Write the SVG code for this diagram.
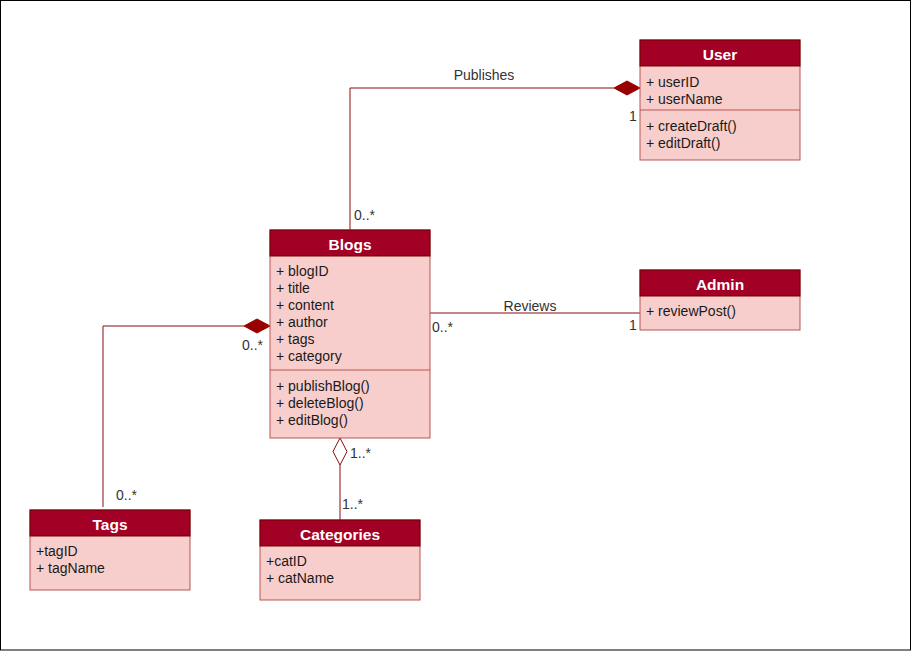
<svg xmlns="http://www.w3.org/2000/svg" width="912" height="651" viewBox="0 0 912 651">
<style>
.hd{fill:#a20025;stroke:#6f0000;stroke-width:1}
.bd{fill:#f8cecc;stroke:#b85450;stroke-width:1}
.dv{stroke:#b85450;stroke-width:1}
.ht{font-family:"Liberation Sans",Arial,sans-serif;font-size:15.5px;font-weight:bold;fill:#ffffff;text-anchor:middle}
.t{font-family:"Liberation Sans",Arial,sans-serif;font-size:14px;fill:#1a1a1a}
.ln{fill:none;stroke:#8b0d0d;stroke-width:1}
.lb{font-family:"Liberation Sans",Arial,sans-serif;font-size:14px;fill:#333333}
</style>
<rect x="0.5" y="0.5" width="910" height="649.5" fill="#ffffff" stroke="#000000"/>
<g id="connectors">
<path class="ln" d="M350,230 V88 H614"/>
<path d="M614,88 L627,81 L640,88 L627,95 Z" fill="#990000" stroke="#990000"/>
<path class="ln" d="M430,313 H640"/>
<path class="ln" d="M103,507 V326 H244"/>
<path d="M244,326 L257,319 L270,326 L257,333 Z" fill="#990000" stroke="#990000"/>
<path class="ln" d="M340,465 V520"/>
<path d="M340,438 L347,451.5 L340,465 L333,451.5 Z" fill="#ffffff" stroke="#8b0d0d"/>
<text class="lb" x="484" y="80" text-anchor="middle">Publishes</text>
<text class="lb" x="629" y="121">1</text>
<text class="lb" x="354" y="220">0..*</text>
<text class="lb" x="530" y="311" text-anchor="middle">Reviews</text>
<text class="lb" x="432" y="332">0..*</text>
<text class="lb" x="629" y="330">1</text>
<text class="lb" x="242" y="350">0..*</text>
<text class="lb" x="116" y="500">0..*</text>
<text class="lb" x="350" y="458">1..*</text>
<text class="lb" x="342" y="509">1..*</text>
</g>
<g id="User">
<rect class="bd" x="640" y="40" width="160" height="120"/>
<rect class="hd" x="640" y="40" width="160" height="26"/>
<text class="ht" x="720" y="60">User</text>
<text class="t" x="646" y="87">+ userID</text>
<text class="t" x="646" y="104">+ userName</text>
<line class="dv" x1="640" y1="110" x2="800" y2="110"/>
<text class="t" x="646" y="131">+ createDraft()</text>
<text class="t" x="646" y="148">+ editDraft()</text>
</g>
<g id="Blogs">
<rect class="bd" x="270" y="230" width="160" height="208"/>
<rect class="hd" x="270" y="230" width="160" height="26"/>
<text class="ht" x="350" y="250">Blogs</text>
<text class="t" x="276" y="276">+ blogID</text>
<text class="t" x="276" y="293">+ title</text>
<text class="t" x="276" y="310">+ content</text>
<text class="t" x="276" y="327">+ author</text>
<text class="t" x="276" y="344">+ tags</text>
<text class="t" x="276" y="361">+ category</text>
<line class="dv" x1="270" y1="370" x2="430" y2="370"/>
<text class="t" x="276" y="391">+ publishBlog()</text>
<text class="t" x="276" y="408">+ deleteBlog()</text>
<text class="t" x="276" y="425">+ editBlog()</text>
</g>
<g id="Admin">
<rect class="bd" x="640" y="270" width="160" height="60"/>
<rect class="hd" x="640" y="270" width="160" height="26"/>
<text class="ht" x="720" y="290">Admin</text>
<text class="t" x="646" y="316">+ reviewPost()</text>
</g>
<g id="Tags">
<rect class="bd" x="30" y="510" width="160" height="80"/>
<rect class="hd" x="30" y="510" width="160" height="26"/>
<text class="ht" x="110" y="530">Tags</text>
<text class="t" x="36" y="556">+tagID</text>
<text class="t" x="36" y="573">+ tagName</text>
</g>
<g id="Categories">
<rect class="bd" x="260" y="520" width="160" height="80"/>
<rect class="hd" x="260" y="520" width="160" height="26"/>
<text class="ht" x="340" y="540">Categories</text>
<text class="t" x="266" y="566">+catID</text>
<text class="t" x="266" y="583">+ catName</text>
</g>
</svg>
